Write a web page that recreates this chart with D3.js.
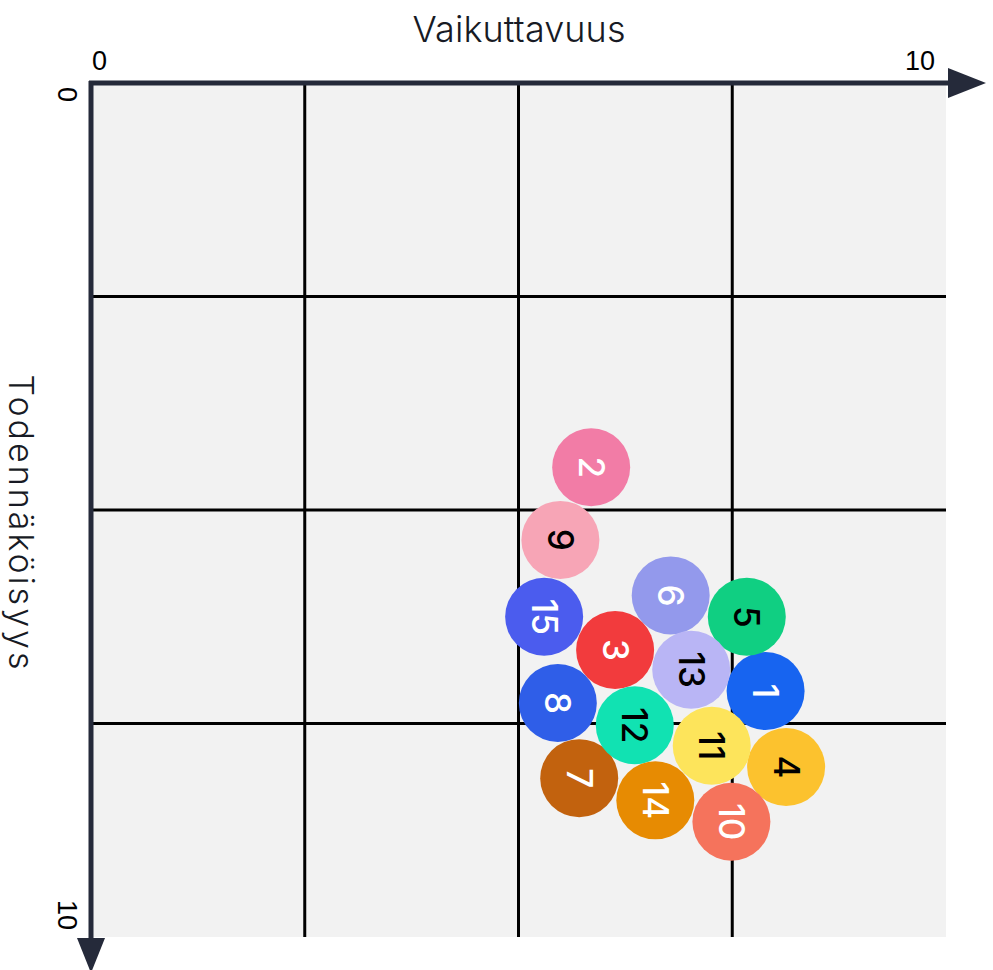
<!DOCTYPE html>
<html>
<head>
<meta charset="utf-8">
<script src="https://cdn.jsdelivr.net/npm/d3@7"></script>
<style>
  html, body { margin: 0; padding: 0; background: #fff; }
  svg { display: block; }
</style>
</head>
<body>
<svg id="chart" width="993" height="970"></svg>
<script>
// risk ids, impact (Vaikuttavuus) and likelihood (Todennäköisyys), 0..10
const ids        = [1, 2, 3, 4, 5, 6, 7, 8, 9, 10, 11, 12, 13, 14, 15];
const impact     = [7.89, 5.85, 6.13, 8.13, 7.67, 6.78, 5.71, 5.46, 5.49, 7.49, 7.26, 6.36, 7.02, 6.60, 5.30];
const likelihood = [7.12, 4.50, 6.64, 8.01, 6.25, 6.00, 8.14, 7.26, 5.35, 8.65, 7.76, 7.52, 6.87, 8.40, 6.25];
const fills      = ['#1764f0', '#f27ca6', '#f23b3d', '#fcc22e', '#10cf82', '#9399ec', '#c2620e', '#2f5ee8',
                    '#f7a5b6', '#f5735c', '#fde45b', '#11e2b2', '#b9b5f5', '#e78b02', '#4b5cee'];
const inks       = ['#fff', '#fff', '#fff', '#000', '#000', '#fff', '#fff', '#fff',
                    '#000', '#fff', '#000', '#000', '#000', '#fff', '#fff'];
const gridTicks  = [2.5, 5, 7.5];
const axisLabels = ['0', '10'];

const svg = d3.select('#chart');
const x = d3.scaleLinear().domain([0, 10]).range([91, 946]);
const y = d3.scaleLinear().domain([0, 10]).range([83, 937]);
const axisColor = '#252a3a';

// plot background
svg.append('rect')
  .attr('x', x(0)).attr('y', y(0))
  .attr('width', x(10) - x(0)).attr('height', y(10) - y(0))
  .attr('fill', '#f2f2f2');

// grid
svg.selectAll('.vgrid').data(gridTicks).enter().append('line')
  .attr('x1', d => x(d)).attr('x2', d => x(d))
  .attr('y1', y(0)).attr('y2', y(10))
  .attr('stroke', '#000').attr('stroke-width', 3);
svg.selectAll('.hgrid').data(gridTicks).enter().append('line')
  .attr('y1', d => y(d)).attr('y2', d => y(d))
  .attr('x1', x(0)).attr('x2', x(10))
  .attr('stroke', '#000').attr('stroke-width', 3);

// axes with arrow heads
svg.append('line')
  .attr('x1', x(0) - 2).attr('x2', x(10) + 4)
  .attr('y1', y(0)).attr('y2', y(0))
  .attr('stroke', axisColor).attr('stroke-width', 5);
svg.append('path')
  .attr('d', `M${x(10) + 2},${y(0) - 15} L${x(10) + 40},${y(0)} L${x(10) + 2},${y(0) + 15} Z`)
  .attr('fill', axisColor);
svg.append('line')
  .attr('x1', x(0)).attr('x2', x(0))
  .attr('y1', y(0) - 2).attr('y2', y(10) + 4)
  .attr('stroke', axisColor).attr('stroke-width', 5);
svg.append('path')
  .attr('d', `M${x(0) - 14},${y(10) + 1} L${x(0)},${y(10) + 36} L${x(0) + 14},${y(10) + 1} Z`)
  .attr('fill', axisColor);

// axis end labels
const tickFont = "'Liberation Sans', Arial, sans-serif";
svg.append('text').attr('x', x(0) + 1).attr('y', 70)
  .attr('font-family', tickFont).attr('font-size', 27).attr('fill', '#000')
  .text(axisLabels[0]);
svg.append('text').attr('x', x(10) - 11).attr('y', 70)
  .attr('text-anchor', 'end')
  .attr('font-family', tickFont).attr('font-size', 27).attr('fill', '#000')
  .text(axisLabels[1]);
svg.append('text')
  .attr('transform', `translate(58,${y(0) + 4}) rotate(90)`)
  .attr('font-family', tickFont).attr('font-size', 27).attr('fill', '#000')
  .text(axisLabels[0]);
svg.append('text')
  .attr('transform', `translate(58,${y(10) - 7}) rotate(90)`)
  .attr('text-anchor', 'end')
  .attr('font-family', tickFont).attr('font-size', 27).attr('fill', '#000')
  .text(axisLabels[1]);

// axis titles
const titleFont = "Inter, 'Open Sans', sans-serif";
svg.append('text')
  .attr('x', 519).attr('y', 42)
  .attr('text-anchor', 'middle')
  .attr('font-family', titleFont).attr('font-weight', 300)
  .attr('font-size', 36).attr('fill', '#171a24')
  .attr('textLength', 213)
  .text('Vaikuttavuus');
svg.append('text')
  .attr('transform', 'translate(9,522) rotate(90)')
  .attr('text-anchor', 'middle')
  .attr('font-family', titleFont).attr('font-weight', 300)
  .attr('font-size', 34).attr('fill', '#171a24')
  .attr('textLength', 295)
  .text('Todennäköisyys');

// risk bubbles
const risks = ids.map((id, i) => ({ id, ix: impact[i], lk: likelihood[i], fill: fills[i], ink: inks[i] }));
const g = svg.selectAll('.risk').data(risks).enter().append('g')
  .attr('class', 'risk')
  .attr('transform', d => `translate(${x(d.ix)},${y(d.lk)})`);
g.append('circle').attr('r', 39).attr('fill', d => d.fill);
g.append('text')
  .attr('transform', 'rotate(90)')
  .attr('text-anchor', 'middle')
  .attr('dy', '0.36em')
  .attr('font-family', "Inter, 'Liberation Sans', sans-serif")
  .attr('font-weight', 500).attr('font-size', 35)
  .attr('fill', d => d.ink)
  .text(d => d.id);
</script>
</body>
</html>
